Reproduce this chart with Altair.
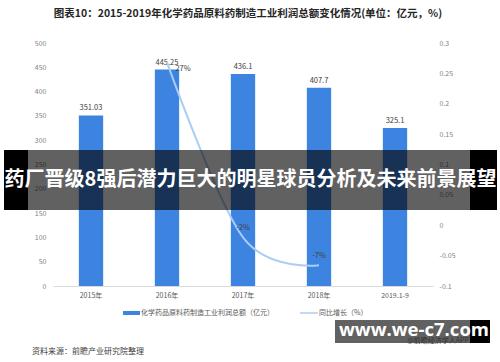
import altair as alt
import pandas as pd

years = ["2015年", "2016年", "2017年", "2018年", "2019.1-9"]
profit = [351.03, 445.25, 436.1, 407.7, 325.1]
growth_years = ["2016年", "2017年", "2018年"]
growth = [0.268, -0.02, -0.066]
left_ticks = [0, 50, 100, 150, 200, 250, 300, 350, 400, 450, 500]
right_ticks = [-0.1, -0.05, 0, 0.05, 0.1, 0.15, 0.2, 0.25, 0.3]

title_text = "图表10：2015-2019年化学药品原料药制造工业利润总额变化情况(单位：亿元，%)"
banner_text = "药厂晋级8强后潜力巨大的明星球员分析及未来前景展望"
legend_bar = "化学药品原料药制造工业利润总额（亿元）"
legend_line = "同比增长（%）"
source_text = "资料来源：前瞻产业研究院整理"
site_text = "www.we-c7.com"
app_text = "@前瞻经济学人APP"

FONT = "Noto Sans CJK SC"
BAR = "#3d84e0"
LINE = "#aacdf5"

bars_df = pd.DataFrame({"year": years, "profit": profit})
line_df = pd.DataFrame({"year": growth_years, "growth": growth})
one = pd.DataFrame({"k": [0]})

xs = alt.X("year:N", sort=years,
           scale=alt.Scale(domain=years, paddingInner=0.68, paddingOuter=0.34),
           axis=alt.Axis(title=None, labelAngle=0, ticks=False, domainColor="#d9d9d9",
                         labelColor="#595959", labelFontSize=7, labelFont=FONT,
                         labelPadding=5))

yl = alt.Y("profit:Q", scale=alt.Scale(domain=[0, 500], nice=False),
           axis=alt.Axis(title=None, values=left_ticks, domain=False, ticks=False,
                         grid=False, labelColor="#7f7f7f", labelFontSize=7,
                         labelFont=FONT, labelPadding=7))

bars = alt.Chart(bars_df).mark_bar(color=BAR).encode(x=xs, y=yl)
bar_labels = alt.Chart(bars_df).mark_text(
    fontSize=7.5, color="#404040", font=FONT, baseline="bottom", dy=-3
).encode(x=xs, y=yl, text=alt.Text("profit:N"))
left = alt.layer(bars, bar_labels)

yr = alt.Y("growth:Q", scale=alt.Scale(domain=[-0.1, 0.3], nice=False),
           axis=alt.Axis(title=None, orient="right", values=right_ticks, domain=False,
                         ticks=False, grid=False, labelColor="#7f7f7f", labelFontSize=7,
                         labelFont=FONT, labelPadding=6,
                         labelExpr="replace(format(datum.value, '.2~f'), '\u2212', '-')"))

line = alt.Chart(line_df).mark_line(color=LINE, strokeWidth=2, interpolate="cardinal").encode(x=xs, y=yr)
lab_base = alt.Chart(line_df).transform_calculate(
    lab="replace(format(datum.growth, '.0%'), '\u2212', '-')")
lab1 = lab_base.transform_filter(alt.datum.year == growth_years[0]).mark_text(
    fontSize=7.5, color="#404040", font=FONT, dx=16, dy=7
).encode(x=xs, y=yr, text="lab:N")
lab2 = lab_base.transform_filter(alt.datum.year != growth_years[0]).mark_text(
    fontSize=7.5, color="#404040", font=FONT, dy=-9
).encode(x=xs, y=yr, text="lab:N")
right = alt.layer(line, lab1, lab2)

main = alt.layer(left, right).resolve_scale(y="independent")


def rect(x1, x2, y1, y2, color, opacity=1.0):
    return alt.Chart(one).mark_rect(color=color, opacity=opacity).encode(
        x=alt.value(x1), x2=alt.value(x2), y=alt.value(y1), y2=alt.value(y2))


def txt(s, x, y, size, color, bold=False, align="center", font=FONT):
    return alt.Chart(one).mark_text(
        text=s, fontSize=size, color=color, font=font, align=align, baseline="middle",
        fontWeight="bold" if bold else "normal"
    ).encode(x=alt.value(x), y=alt.value(y))


# offsets: plot origin at (53, 43)
title = txt(title_text, 195, -29, 10.5, "#262626", bold=True)
leg_rect = rect(70, 87, 268, 272, BAR)
leg_t1 = txt(legend_bar, 88, 270, 7, "#595959", align="left")
leg_line = alt.Chart(one).mark_rule(color=LINE, strokeWidth=1.5).encode(
    x=alt.value(247), x2=alt.value(265), y=alt.value(270))
leg_t2 = txt(legend_line, 266, 270, 7, "#595959", align="left")
source = txt(source_text, -21, 309, 8, "#404040", align="left")

banner = alt.layer(
    rect(-49, -25, 107, 167, "#000000"),
    rect(-25, 417, 107, 167, "#000000", 0.62),
    rect(417, 444, 107, 167, "#000000"),
    txt(banner_text, 197.5, 137, 20, "#ffffff", bold=True),
)
site = alt.layer(
    rect(282, 417, 277, 300, "#000000", 0.62),
    rect(417, 437, 277, 300, "#000000"),
    txt(site_text, 361, 287, 18.5, "#ffffff", bold=True, font="Open Sans"),
    txt(app_text, 385, 297.5, 7, "#333333"),
)

chart = alt.layer(main, title, leg_rect, leg_t1, leg_line, leg_t2, source, banner, site).properties(
    width=380, height=243,
    autosize=alt.AutoSizeParams(type="none"),
    padding={"left": 53, "top": 43, "right": 67, "bottom": 76},
    background="white",
).configure_view(stroke=None)

chart.save("out.html", embed_options={"renderer": "svg", "actions": False})
